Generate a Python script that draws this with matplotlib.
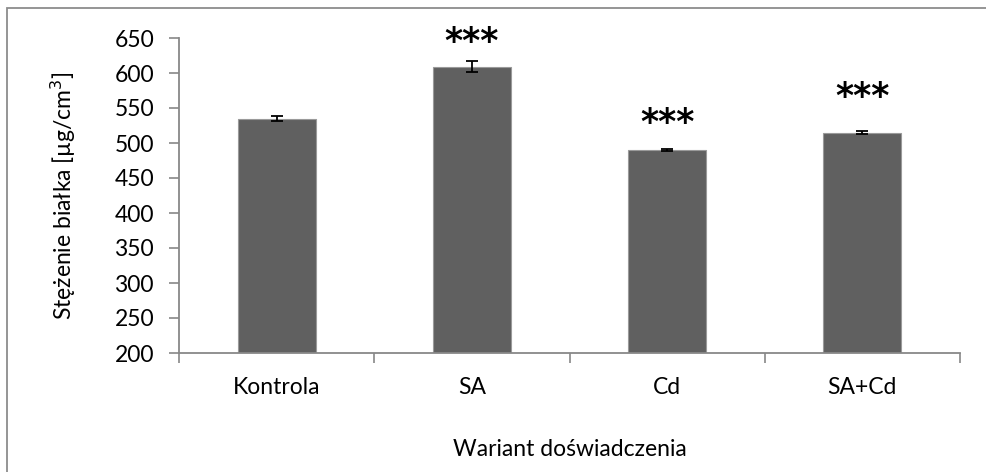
import numpy as np
import matplotlib
matplotlib.use("Agg")
import matplotlib.pyplot as plt
from matplotlib.patches import Rectangle

categories = ["Kontrola", "SA", "Cd", "SA+Cd"]
values = [535, 609, 490, 515]
errors = [3, 8, 2, 1.5]
stars = ["", "***", "***", "***"]
star_y = [None, 644, 529, 566]

plt.rcParams["font.family"] = ["Lato", "DejaVu Sans"]
FS = 16.5

fig = plt.figure(figsize=(9.86, 4.72), dpi=100)
ax = fig.add_axes([179 / 986, 1 - 353 / 472, (960 - 179) / 986, (353 - 38) / 472])

x = np.arange(len(categories))
ax.bar(x, values, width=0.4, color="#606060", edgecolor="#9a9a9a", linewidth=0.8, zorder=2)
ax.errorbar(x, values, yerr=errors, fmt="none", ecolor="black", elinewidth=1.3,
            capsize=4, capthick=1.3, zorder=3)
for xi, s, sy in zip(x, stars, star_y):
    if s:
        ax.text(xi, sy, s, ha="center", va="center", fontsize=25, fontweight="bold",
                family=["DejaVu Sans"], color="black")

ax.set_xlim(-0.5, len(categories) - 0.5)
ax.set_ylim(200, 650)
ax.set_yticks(np.arange(200, 651, 50))
ax.set_xticks(x)
ax.set_xticklabels(categories)
ax.set_xticks(np.arange(-0.5, len(categories), 1), minor=True)
ax.tick_params(axis="x", which="major", length=0, pad=17, labelsize=FS)
ax.tick_params(axis="x", which="minor", length=7, color="#888888", width=1.2, direction="out")
ax.tick_params(axis="y", length=7, color="#888888", width=1.2, labelsize=FS, pad=11)

for side in ["top", "right"]:
    ax.spines[side].set_visible(False)
for side in ["left", "bottom"]:
    ax.spines[side].set_color("#888888")
    ax.spines[side].set_linewidth(1.3)

ax.set_ylabel("Stężenie białka [µg/cm$^3$]", fontsize=FS, labelpad=26)
xl = ax.text(0.5, 1 - 450 / 472, "Wariant doświadczenia", ha="center", va="center",
             fontsize=FS)
xl.set_transform(matplotlib.transforms.blended_transform_factory(ax.transAxes, fig.transFigure))

# outer chart border
fig.patches.append(Rectangle((7 / 986, -0.1), 1.1, 1 - 8 / 472 + 0.1,
                             transform=fig.transFigure, fill=False,
                             edgecolor="#8c8c8c", linewidth=1.3))

fig.savefig("out.png", dpi=100)
